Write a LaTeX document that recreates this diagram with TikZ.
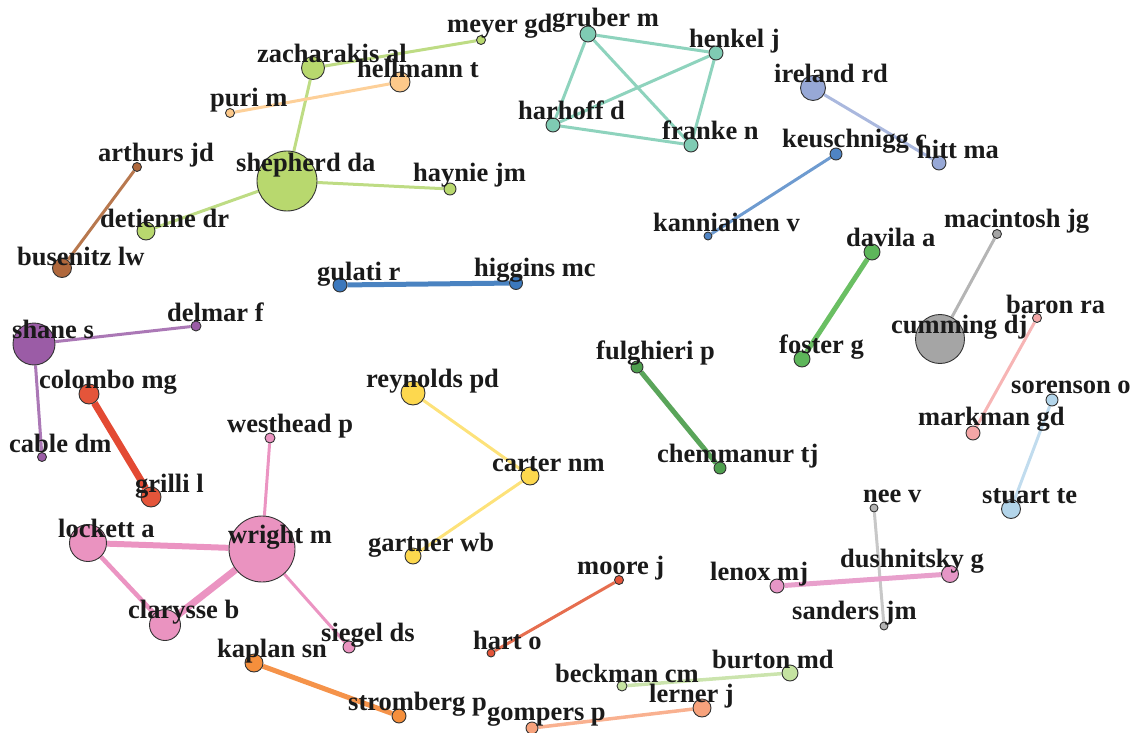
\documentclass[tikz,border=0pt]{standalone}
\usepackage{fontspec}
\setmainfont{Liberation Serif}
\usetikzlibrary{backgrounds}
\definecolor{lgreen}{HTML}{B8D86E}\definecolor{lgreenE}{HTML}{BEDC84}
\definecolor{peach}{HTML}{FDC98A}\definecolor{peachE}{HTML}{FDD099}
\definecolor{brownc}{HTML}{B0683C}\definecolor{brownE}{HTML}{B8784E}
\definecolor{teal}{HTML}{7FCBB3}\definecolor{tealE}{HTML}{8ED3BD}
\definecolor{lav}{HTML}{97A8D6}\definecolor{lavE}{HTML}{AAB8DE}
\definecolor{blueb}{HTML}{4F84C4}\definecolor{bluebE}{HTML}{6E9BD0}
\definecolor{bluea}{HTML}{3B78BD}\definecolor{blueaE}{HTML}{4A83C1}
\definecolor{greena}{HTML}{5DB65A}\definecolor{greenaE}{HTML}{6ABF63}
\definecolor{greenb}{HTML}{4E9F4E}\definecolor{greenbE}{HTML}{5AA55A}
\definecolor{graya}{HTML}{A5A5A5}\definecolor{grayaE}{HTML}{B5B5B5}
\definecolor{grayb}{HTML}{B3B3B3}\definecolor{graybE}{HTML}{C8C8C8}
\definecolor{rosea}{HTML}{F4A6A6}\definecolor{roseaE}{HTML}{F7B5B5}
\definecolor{skyb}{HTML}{B3D5EA}\definecolor{skybE}{HTML}{C1DCEE}
\definecolor{purp}{HTML}{9B5CA6}\definecolor{purpE}{HTML}{AB78B6}
\definecolor{reda}{HTML}{E4553A}\definecolor{redaE}{HTML}{E34A33}
\definecolor{pinka}{HTML}{EA93C0}\definecolor{pinkaE}{HTML}{EB94C2}
\definecolor{yell}{HTML}{FDD84E}\definecolor{yellE}{HTML}{FDE27A}
\definecolor{orna}{HTML}{F58F3C}\definecolor{ornaE}{HTML}{F5934A}
\definecolor{redb}{HTML}{E4553A}\definecolor{redbE}{HTML}{E66E4F}
\definecolor{lgb}{HTML}{C5E3A1}\definecolor{lgbE}{HTML}{CBE4AD}
\definecolor{salm}{HTML}{F7A27C}\definecolor{salmE}{HTML}{F9B190}
\definecolor{pinkb}{HTML}{E696C6}\definecolor{pinkbE}{HTML}{E8A0CC}
\definecolor{txt}{HTML}{1A1A1A}
\tikzset{
  nd/.style={circle,draw=black!80,line width=0.9pt,inner sep=0pt,minimum size=#1},
  lbl/.style={anchor=base west,inner sep=0pt,text=txt,font=\fontsize{26.5}{30}\selectfont\bfseries},
  ed/.style={line width=#1}
}
\begin{document}
\begin{tikzpicture}[x=1pt,y=-1pt]
\useasboundingbox (0,0) rectangle (1136,733);
% nodes
\node[nd=60pt,fill=lgreen] (shepherd) at (287,181) {};
\node[nd=23pt,fill=lgreen] (zach) at (313,68) {};
\node[nd=9pt,fill=lgreen] (meyer) at (481,40) {};
\node[nd=12pt,fill=lgreen] (haynie) at (450,189) {};
\node[nd=18pt,fill=lgreen] (detienne) at (146,231) {};
\node[nd=20pt,fill=peach] (hellmann) at (400,82) {};
\node[nd=9pt,fill=peach] (puri) at (230,113) {};
\node[nd=9pt,fill=brownc] (arthurs) at (137,167) {};
\node[nd=19pt,fill=brownc] (busenitz) at (62,268) {};
\node[nd=16pt,fill=teal] (gruber) at (588,34) {};
\node[nd=14pt,fill=teal] (henkel) at (716,53) {};
\node[nd=14pt,fill=teal] (harhoff) at (553,125) {};
\node[nd=14pt,fill=teal] (franke) at (691,145) {};
\node[nd=25pt,fill=lav] (ireland) at (813,88) {};
\node[nd=14pt,fill=lav] (hitt) at (939,163) {};
\node[nd=12pt,fill=blueb] (keus) at (836,154) {};
\node[nd=8pt,fill=blueb] (kann) at (708,236) {};
\node[nd=14pt,fill=bluea] (gulati) at (340,285) {};
\node[nd=13pt,fill=bluea] (higgins) at (516,283) {};
\node[nd=16pt,fill=greena] (davila) at (872,252) {};
\node[nd=16pt,fill=greena] (foster) at (802,359) {};
\node[nd=9pt,fill=graya] (macintosh) at (997,234) {};
\node[nd=49pt,fill=graya] (cumming) at (940,339) {};
\node[nd=9pt,fill=rosea] (baron) at (1037,318) {};
\node[nd=14pt,fill=rosea] (markman) at (973,433) {};
\node[nd=12pt,fill=skyb] (sorenson) at (1052,400) {};
\node[nd=19pt,fill=skyb] (stuart) at (1011,509) {};
\node[nd=42pt,fill=purp] (shane) at (34,344) {};
\node[nd=10pt,fill=purp] (delmar) at (196,326) {};
\node[nd=9pt,fill=purp] (cable) at (42,457) {};
\node[nd=20pt,fill=reda] (colombo) at (89,394) {};
\node[nd=20pt,fill=reda] (grilli) at (151,497) {};
\node[nd=66pt,fill=pinka] (wright) at (262,549) {};
\node[nd=37pt,fill=pinka] (lockett) at (88,543) {};
\node[nd=31pt,fill=pinka] (clarysse) at (165,625) {};
\node[nd=12pt,fill=pinka] (siegel) at (349,647) {};
\node[nd=10pt,fill=pinka] (westhead) at (270,438) {};
\node[nd=24pt,fill=yell] (reynolds) at (413,393) {};
\node[nd=18pt,fill=yell] (carter) at (530,476) {};
\node[nd=16pt,fill=yell] (gartner) at (413,556) {};
\node[nd=12pt,fill=greenb] (fulghieri) at (637,367) {};
\node[nd=12pt,fill=greenb] (chemmanur) at (720,468) {};
\node[nd=18pt,fill=orna] (kaplan) at (254,663) {};
\node[nd=14pt,fill=orna] (stromberg) at (399,716) {};
\node[nd=9pt,fill=redb] (moore) at (619,580) {};
\node[nd=8pt,fill=redb] (hart) at (491,653) {};
\node[nd=10pt,fill=lgb] (beckman) at (622,686) {};
\node[nd=16pt,fill=lgb] (burton) at (790,673) {};
\node[nd=12pt,fill=salm] (gompers) at (532,728) {};
\node[nd=18pt,fill=salm] (lerner) at (702,708) {};
\node[nd=8pt,fill=grayb] (nee) at (874,508) {};
\node[nd=8pt,fill=grayb] (sanders) at (884,626) {};
\node[nd=14pt,fill=pinkb] (lenox) at (777,586) {};
\node[nd=17pt,fill=pinkb] (dush) at (950,574) {};
% edges
\begin{scope}[on background layer]
\draw[ed=3pt,lgreenE] (shepherd) -- (zach);
\draw[ed=3pt,lgreenE] (zach) -- (meyer);
\draw[ed=3pt,lgreenE] (shepherd) -- (haynie);
\draw[ed=3pt,lgreenE] (shepherd) -- (detienne);
\draw[ed=3pt,peachE] (puri) -- (hellmann);
\draw[ed=3pt,brownE] (arthurs) -- (busenitz);
\draw[ed=3pt,tealE] (gruber) -- (henkel);
\draw[ed=3pt,tealE] (gruber) -- (harhoff);
\draw[ed=3pt,tealE] (gruber) -- (franke);
\draw[ed=3pt,tealE] (henkel) -- (harhoff);
\draw[ed=3pt,tealE] (henkel) -- (franke);
\draw[ed=3pt,tealE] (harhoff) -- (franke);
\draw[ed=3pt,lavE] (ireland) -- (hitt);
\draw[ed=3pt,bluebE] (keus) -- (kann);
\draw[ed=5pt,blueaE] (gulati) -- (higgins);
\draw[ed=5pt,greenaE] (davila) -- (foster);
\draw[ed=3pt,grayaE] (macintosh) -- (cumming);
\draw[ed=3pt,roseaE] (baron) -- (markman);
\draw[ed=3pt,skybE] (sorenson) -- (stuart);
\draw[ed=3pt,purpE] (shane) -- (delmar);
\draw[ed=3pt,purpE] (shane) -- (cable);
\draw[ed=7pt,redaE] (colombo) -- (grilli);
\draw[ed=6pt,pinkaE] (lockett) -- (wright);
\draw[ed=4.5pt,pinkaE] (lockett) -- (clarysse);
\draw[ed=7pt,pinkaE] (wright) -- (clarysse);
\draw[ed=3pt,pinkaE] (wright) -- (siegel);
\draw[ed=3pt,pinkaE] (wright) -- (westhead);
\draw[ed=3pt,yellE] (reynolds) -- (carter);
\draw[ed=3pt,yellE] (carter) -- (gartner);
\draw[ed=5pt,greenbE] (fulghieri) -- (chemmanur);
\draw[ed=5pt,ornaE] (kaplan) -- (stromberg);
\draw[ed=3pt,redbE] (moore) -- (hart);
\draw[ed=3.5pt,lgbE] (beckman) -- (burton);
\draw[ed=3.5pt,salmE] (gompers) -- (lerner);
\draw[ed=3pt,graybE] (nee) -- (sanders);
\draw[ed=5pt,pinkbE] (lenox) -- (dush);
\end{scope}
% labels
\node[lbl] (lzach) at (257,63) {zacharakis al};
\node[lbl] (lhellmann) at (357,78) {hellmann t};
\node[lbl] (lpuri) at (210,107) {puri m};
\node[lbl] (larthurs) at (98,162) {arthurs jd};
\node[lbl] (lshepherd) at (236,172) {shepherd da};
\node[lbl] (ldetienne) at (100,228) {detienne dr};
\node[lbl] (lbusenitz) at (17,265) {busenitz lw};
\node[lbl] (lmeyer) at (447,33) {meyer gd};
\node[lbl] (lgruber) at (552,27) {gruber m};
\node[lbl] (lhenkel) at (689,48) {henkel j};
\node[lbl] (lharhoff) at (518,120) {harhoff d};
\node[lbl] (lfranke) at (662,140) {franke n};
\node[lbl] (lhaynie) at (413,182) {haynie jm};
\node[lbl] (lkann) at (653,232) {kanniainen v};
\node[lbl] (lhiggins) at (474,276) {higgins mc};
\node[lbl] (lireland) at (774,83) {ireland rd};
\node[lbl] (lkeus) at (782,148) {keuschnigg c};
\node[lbl] (lhitt) at (917,159) {hitt ma};
\node[lbl] (lmacintosh) at (944,227) {macintosh jg};
\node[lbl] (ldavila) at (846,247) {davila a};
\node[lbl] (lgulati) at (317,280) {gulati r};
\node[lbl] (ldelmar) at (167,321) {delmar f};
\node[lbl] (lshane) at (12,338) {shane s};
\node[lbl] (lcolombo) at (39,388) {colombo mg};
\node[lbl] (lwesthead) at (227,432) {westhead p};
\node[lbl] (lcable) at (9,452) {cable dm};
\node[lbl] (lgrilli) at (135,492) {grilli l};
\node[lbl] (lfulghieri) at (596,359) {fulghieri p};
\node[lbl] (lreynolds) at (366,387) {reynolds pd};
\node[lbl] (lcarter) at (492,471) {carter nm};
\node[lbl] (lchemmanur) at (657,462) {chemmanur tj};
\node[lbl] (lfoster) at (779,353) {foster g};
\node[lbl] (lcumming) at (891,333) {cumming dj};
\node[lbl] (lbaron) at (1006,313) {baron ra};
\node[lbl] (lsorenson) at (1011,393) {sorenson o};
\node[lbl] (lmarkman) at (918,425) {markman gd};
\node[lbl] (lnee) at (863,502) {nee v};
\node[lbl] (lstuart) at (982,503) {stuart te};
\node[lbl] (llockett) at (58,537) {lockett a};
\node[lbl] (lwright) at (228,543) {wright m};
\node[lbl] (lgartner) at (368,551) {gartner wb};
\node[lbl] (lclarysse) at (128,618) {clarysse b};
\node[lbl] (lsiegel) at (321,641) {siegel ds};
\node[lbl] (lkaplan) at (217,657) {kaplan sn};
\node[lbl] (lstromberg) at (348,710) {stromberg p};
\node[lbl] (lhart) at (473,649) {hart o};
\node[lbl] (lmoore) at (577,574) {moore j};
\node[lbl] (llenox) at (710,580) {lenox mj};
\node[lbl] (ldush) at (840,567) {dushnitsky g};
\node[lbl] (lsanders) at (792,619) {sanders jm};
\node[lbl] (lbeckman) at (555,682) {beckman cm};
\node[lbl] (lburton) at (712,668) {burton md};
\node[lbl] (llerner) at (649,702) {lerner j};
\node[lbl] (lgompers) at (487,720) {gompers p};
\end{tikzpicture}
\end{document}
